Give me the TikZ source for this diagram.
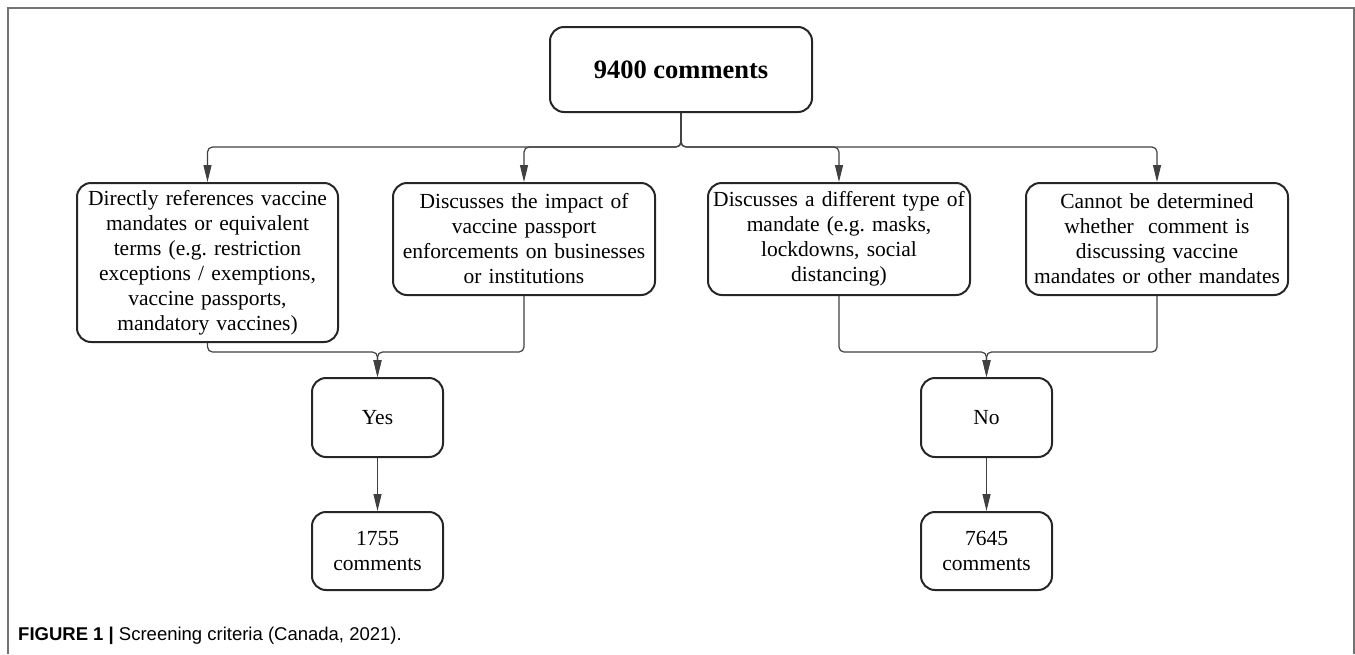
\documentclass[tikz,border=0pt]{standalone}
\usepackage{fontspec}
\setmainfont{Liberation Serif}
\newfontfamily\captionfont{Liberation Sans}
\usetikzlibrary{arrows.meta}
\frenchspacing

\begin{document}
\begin{tikzpicture}[x=1pt, y=1pt,
  box/.style={draw=black!85, line width=2pt, rounded corners=14pt, align=center, inner sep=0pt, font=\fontsize{21.5}{25}\selectfont},
  link/.style={draw=black!75, line width=1.2pt, rounded corners=5pt},
  arrow/.style={link, -{Triangle[length=17pt, width=8pt]}}]
  \useasboundingbox (0, 0) rectangle (1355, -654);
  \draw [draw=black!55, line width=1.5pt] (8, -654) -- (8, -8) -- (1354, -8) -- (1354, -654);
  \node (total) at (681, -69.5) [box, minimum width=262, minimum height=85, font=\fontsize{26.5}{30}\selectfont\bfseries] {9400 comments};
  \node (crit1) at (207.5, -262.5) [box, minimum width=261, minimum height=159, text width=258] {Directly references vaccine\\ mandates or equivalent\\ terms (e.g. restriction\\ exceptions / exemptions,\\ vaccine passports,\\ mandatory vaccines)};
  \node (crit2) at (524, -239) [box, minimum width=262, minimum height=112, text width=259] {Discusses the impact of\\ vaccine passport\\ enforcements on businesses\\ or institutions};
  \node (crit3) at (839, -239) [box, minimum width=262, minimum height=112, text width=259] {Discusses a different type of\\ mandate (e.g. masks,\\ lockdowns, social\\ distancing)};
  \node (crit4) at (1157, -239) [box, minimum width=262, minimum height=112, text width=259] {Cannot be determined\\ whether\ \ comment is\\ discussing vaccine\\ mandates or other mandates};
  \node (yes) at (377.5, -417.5) [box, minimum width=131, minimum height=79] {Yes};
  \node (no) at (986.5, -417.5) [box, minimum width=131, minimum height=79] {No};
  \node (yescount) at (377.5, -551) [box, minimum width=131, minimum height=78, text width=125] {1755\\ comments};
  \node (nocount) at (986.5, -551) [box, minimum width=131, minimum height=78, text width=125] {7645\\ comments};
  \node (caption) at (18, -636) [anchor=west, inner sep=0pt, font=\captionfont\fontsize{18.5}{21}\selectfont] {\textbf{FIGURE 1 |} Screening criteria (Canada, 2021).};
  \coordinate (split) at (681, -147);
  \coordinate (joinyes) at (377.5, -352);
  \coordinate (joinno) at (986.5, -352);
  \draw [arrow] (total) -- (split) -| (crit1);
  \draw [arrow] (total) -- (split) -| (crit2);
  \draw [arrow] (total) -- (split) -| (crit3);
  \draw [arrow] (total) -- (split) -| (crit4);
  \draw [arrow] (crit1) |- (joinyes) -- (yes);
  \draw [arrow] (crit2) |- (joinyes) -- (yes);
  \draw [arrow] (crit3) |- (joinno) -- (no);
  \draw [arrow] (crit4) |- (joinno) -- (no);
  \draw [arrow] (yes) -- (yescount);
  \draw [arrow] (no) -- (nocount);
\end{tikzpicture}
\end{document}
